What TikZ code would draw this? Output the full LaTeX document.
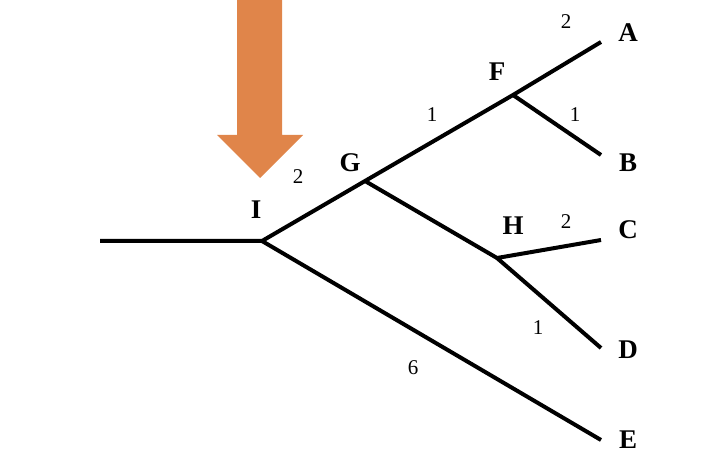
\documentclass[tikz,border=0pt]{standalone}
\usepackage{fontspec}
\setmainfont{Liberation Serif}
\begin{document}
\begin{tikzpicture}[x=1pt,y=-1pt,
  br/.style={line width=4pt},
  lab/.style={font=\fontsize{27}{27}\selectfont\bfseries},
  num/.style={font=\fontsize{21}{21}\selectfont}]
\definecolor{arr}{HTML}{E0854A}
\useasboundingbox (0,0) rectangle (722,470);
\fill[arr] (237,0) -- (282,0) -- (282,135) -- (303,135) -- (260,178) -- (217,135) -- (237,135) -- cycle;
\coordinate (R) at (100,241);
\coordinate (I) at (262,241);
\coordinate (G) at (365,181);
\coordinate (F) at (513,95);
\coordinate (H) at (497,258);
\coordinate (A) at (601,42);
\coordinate (B) at (601,155);
\coordinate (C) at (601,240);
\coordinate (D) at (601,348);
\coordinate (E) at (601,440);
\draw[br] (R) -- (I) -- (G) -- (F) -- (A);
\draw[br] (F) -- (B);
\draw[br] (G) -- (H) -- (C);
\draw[br] (H) -- (D);
\draw[br] (I) -- (E);
\node[lab] (lA) at (628,33) {A};
\node[lab] (lB) at (628,163) {B};
\node[lab] (lC) at (628,230) {C};
\node[lab] (lD) at (628,350) {D};
\node[lab] (lE) at (628,440) {E};
\node[lab] (lF) at (497,72) {F};
\node[lab] (lG) at (350,163) {G};
\node[lab] (lH) at (513,226) {H};
\node[lab] (lI) at (256,210) {I};
\node[num] (n1) at (566,22) {2};
\node[num] (n2) at (575,115) {1};
\node[num] (n3) at (432,115) {1};
\node[num] (n4) at (298,177) {2};
\node[num] (n5) at (566,222) {2};
\node[num] (n6) at (538,328) {1};
\node[num] (n7) at (413,368) {6};
\end{tikzpicture}
\end{document}
